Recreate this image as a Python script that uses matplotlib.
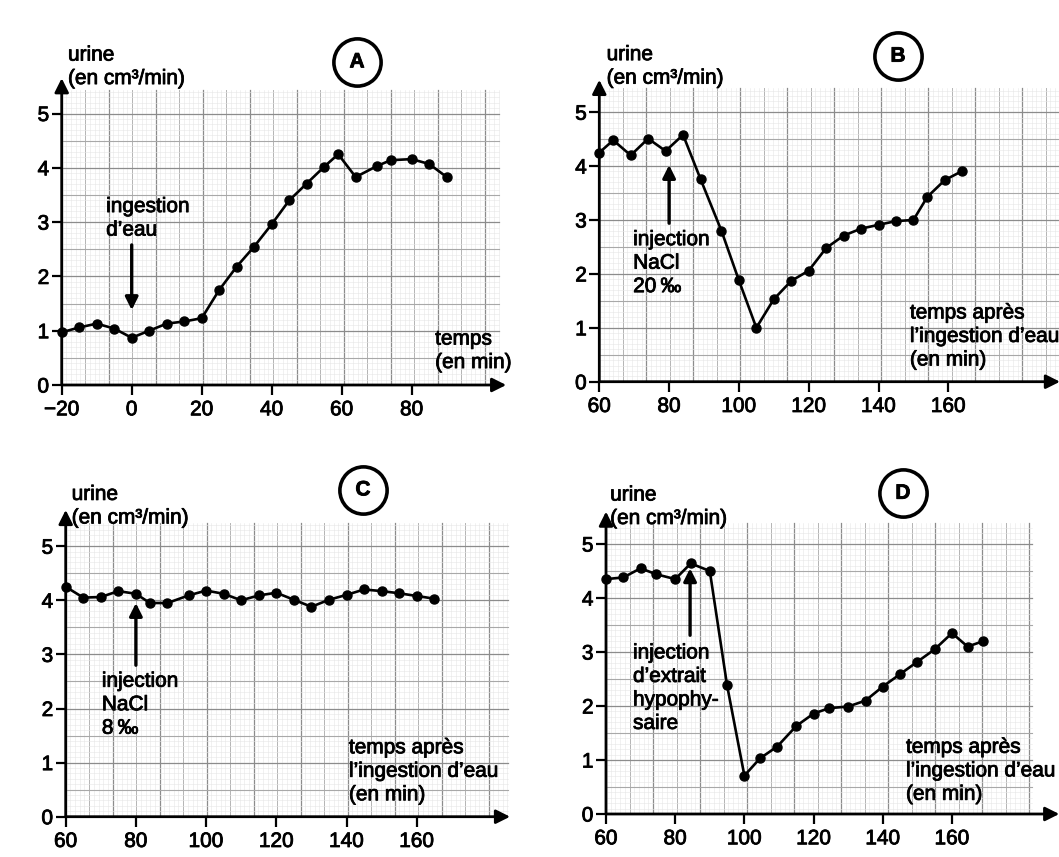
import numpy as np
import matplotlib
matplotlib.use('Agg')
import matplotlib.pyplot as plt
import matplotlib.patheffects as pe

plt.rcParams['font.family'] = ['Liberation Sans', 'DejaVu Sans']

# ---- data (time in min, urine flow in cm3/min)
A_t = [-20, -15, -10, -5, 0, 5, 10, 15, 20, 25, 30, 35, 40, 45, 50, 55, 59, 64, 70, 74, 80, 85, 90]
A_u = [0.97, 1.06, 1.13, 1.04, 0.87, 1.0, 1.13, 1.17, 1.23, 1.75, 2.18, 2.55, 2.96, 3.40, 3.71,
       4.02, 4.25, 3.83, 4.03, 4.14, 4.16, 4.07, 3.83]

B_t = [60, 64, 69, 74, 79, 84, 89, 95, 100, 105, 110, 115, 120, 125, 130, 135, 140, 145, 150, 154, 159, 164]
B_u = [4.25, 4.48, 4.2, 4.51, 4.28, 4.58, 3.76, 2.8, 1.88, 1.0, 1.53, 1.87, 2.06, 2.48, 2.71,
       2.84, 2.91, 2.98, 3.0, 3.43, 3.74, 3.91]

C_t = [60, 65, 70, 75, 80, 84, 89, 95, 100, 105, 110, 115, 120, 125, 130, 135, 140, 145, 150, 155, 160, 165]
C_u = [4.25, 4.05, 4.06, 4.17, 4.12, 3.95, 3.95, 4.09, 4.18, 4.12, 4.0, 4.09, 4.14, 4.01, 3.88,
       4.01, 4.1, 4.2, 4.17, 4.13, 4.08, 4.03]

D_t = [60, 65, 70, 74.5, 80, 84.5, 90, 95, 100, 104.5, 109.5, 115, 120, 124.5, 130, 135, 140, 145,
       150, 155, 160, 164.5, 169]
D_u = [4.35, 4.38, 4.55, 4.44, 4.35, 4.64, 4.5, 2.38, 0.71, 1.03, 1.25, 1.63, 1.86, 1.96, 1.99,
       2.1, 2.36, 2.59, 2.82, 3.05, 3.35, 3.10, 3.2]

A_xticks = [-20, 0, 20, 40, 60, 80]
BCD_xticks = [60, 80, 100, 120, 140, 160]
yticks = [0, 1, 2, 3, 4, 5]

W, H = 1059, 857
fig = plt.figure(figsize=(W / 100, H / 100), dpi=100)
fig.patch.set_facecolor('white')

FS = 15
LS = 1.3
heavy = [pe.withStroke(linewidth=0.6, foreground='k')]


def panel(ox, oy, sx, sy, x0, xmax, ymax, gx, gy, xticks):
    # ox, oy: pixel position of the origin; sx, sy: pixels per unit
    ax = fig.add_axes([ox / W, (H - oy) / H, (xmax - x0) * sx / W, ymax * sy / H])
    ax.set_xlim(x0, xmax)
    ax.set_ylim(0, ymax)
    for s in ax.spines.values():
        s.set_visible(False)
    ax.patch.set_alpha(0)

    # graph paper
    vstep = 47.0 / sx
    for i, x in enumerate(np.arange(x0, gx, vstep / 10)):
        if i % 10 == 0:
            c, lw = '#8c8c8c', 0.9
        elif i % 5 == 0:
            c, lw = '#b4b4b4', 0.7
        else:
            c, lw = '#e6e6e6', 0.4
        ax.plot([x, x], [0, gy], color=c, lw=lw, zorder=0)
    for i, y in enumerate(np.arange(0, gy, 0.1)):
        if i % 10 == 0:
            c, lw = '#8c8c8c', 0.9
        elif i % 5 == 0:
            c, lw = '#a8a8a8', 0.8
        else:
            c, lw = '#e6e6e6', 0.4
        ax.plot([x0, gx], [y, y], color=c, lw=lw, zorder=0)

    arr = dict(arrowstyle='-|>', lw=2.0, color='k', mutation_scale=21, shrinkA=0, shrinkB=0)
    ax.annotate('', xy=(xmax, 0), xytext=(x0, 0), arrowprops=arr, annotation_clip=False)
    ax.annotate('', xy=(x0, ymax), xytext=(x0, 0), arrowprops=arr, annotation_clip=False)

    ax.set_xticks(xticks)
    ax.set_yticks(yticks)
    ax.tick_params(direction='out', length=7, width=1.6, labelsize=FS, colors='k')
    ax.tick_params(axis='x', pad=4)
    ax.tick_params(axis='y', pad=2)
    for lab in ax.get_xticklabels() + ax.get_yticklabels():
        lab.set_path_effects(heavy)
    return ax


def curve(ax, t, u):
    ax.plot(t, u, '-o', color='k', lw=1.9, ms=6.5, zorder=5, clip_on=False)


def badge(ax, x, y, letter):
    ax.plot([x], [y], 'o', ms=34, mfc='white', mec='k', mew=2.6, clip_on=False, zorder=6)
    ax.text(x, y, letter, ha='center', va='center', fontsize=15, fontweight='bold', zorder=7,
            path_effects=heavy)


def label(ax, x, y, s):
    ax.text(x, y, s, ha='left', va='center', fontsize=FS, linespacing=LS, path_effects=heavy)


def note_arrow(ax, x, y0, y1):
    ax.annotate('', xy=(x, y1), xytext=(x, y0),
                arrowprops=dict(arrowstyle='-|>', lw=2.4, color='k', mutation_scale=19,
                                shrinkA=0, shrinkB=0))


temps_long = 'temps après\nl’ingestion d’eau\n(en min)'
urine_lab = 'urine\n(en cm³/min)'

# ---- A
axA = panel(61.7, 385, 3.5, 54.3, -20, 107, 5.65, 105, 5.43, A_xticks)
curve(axA, A_t, A_u)
badge(axA, 64.4, 5.95, 'A')
label(axA, -18.2, 5.86, urine_lab)
label(axA, -7.3, 3.07, 'ingestion\nd’eau')
note_arrow(axA, 0, 2.58, 1.38)
label(axA, 86.7, 0.63, 'temps\n(en min)')

# ---- B
axB = panel(599.3, 381.7, 3.49, 53.9, 60, 192, 5.6, 192, 5.45, BCD_xticks)
curve(axB, B_t, B_u)
badge(axB, 145.6, 6.04, 'B')
label(axB, 62.1, 5.85, urine_lab)
label(axB, 69.7, 2.2, 'injection\nNaCl\n20\u2009‰')
note_arrow(axB, 80, 2.94, 4.02)
label(axB, 149, 0.84, temps_long)

# ---- C
axC = panel(65.7, 816.7, 3.51, 54.1, 60, 186.6, 5.67, 186, 5.43, BCD_xticks)
curve(axC, C_t, C_u)
badge(axC, 144.7, 6.04, 'C')
label(axC, 61.7, 5.74, urine_lab)
label(axC, 70.3, 2.07, 'injection\nNaCl\n8\u2009‰')
note_arrow(axC, 80, 2.8, 3.95)
label(axC, 140.7, 0.84, temps_long)

# ---- D
axD = panel(606, 814, 3.46, 54, 60, 191, 5.6, 183, 5.39, BCD_xticks)
curve(axD, D_t, D_u)
badge(axD, 145.8, 5.94, 'D')
label(axD, 61.2, 5.69, urine_lab)
label(axD, 67.8, 2.33, 'injection\nd’extrait\nhypophy-\nsaire')
note_arrow(axD, 84.3, 3.31, 4.55)
label(axD, 146.7, 0.8, temps_long)

fig.savefig('out.png', dpi=100, facecolor='white')
